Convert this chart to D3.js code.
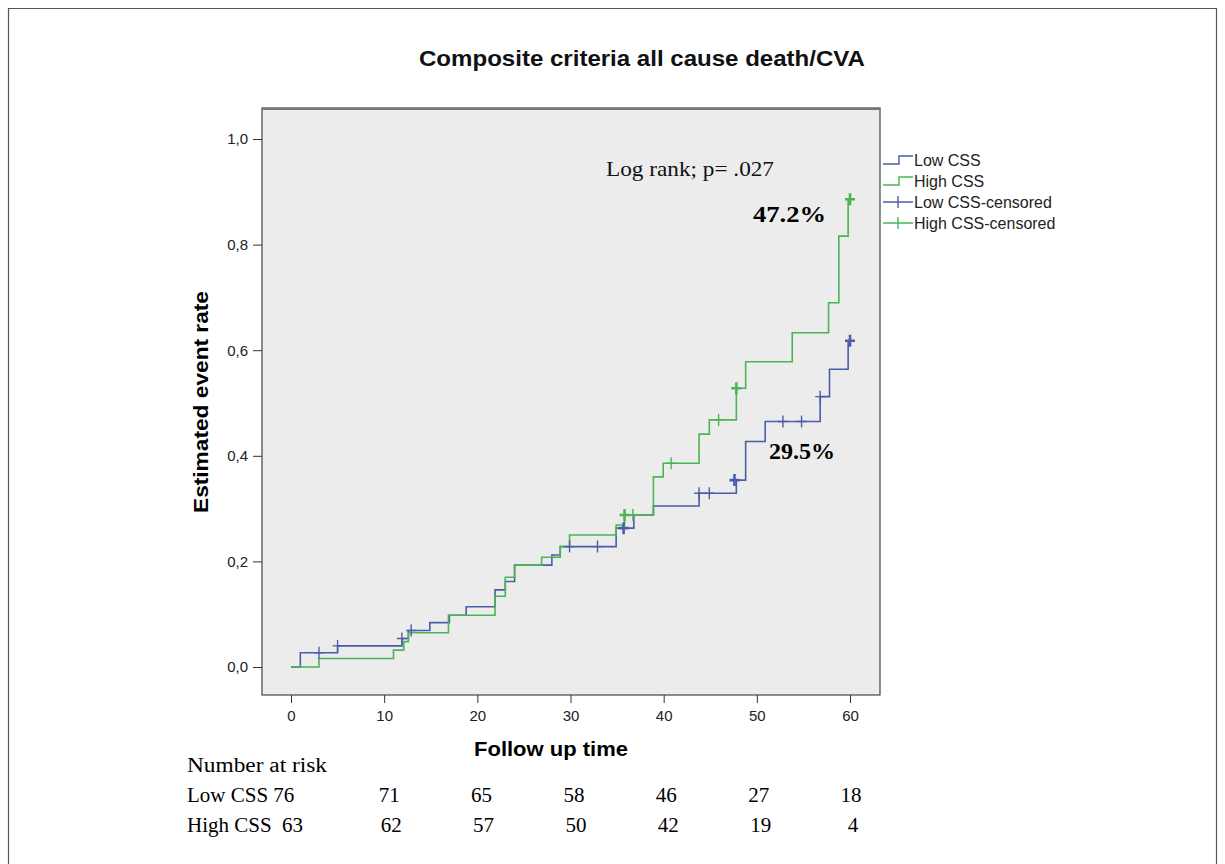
<!DOCTYPE html>
<html>
<head>
<meta charset="utf-8">
<script src="https://cdn.jsdelivr.net/npm/d3@7"></script>
<style>
  body { margin: 0; background: #fff; }
  svg { display: block; }
</style>
</head>
<body>
<div id="chart"></div>
<script>
// step points: [time, estimated event rate]
const lowSteps = [
    [0, 0], [1.0, 0.027], [5.0, 0.040], [11.9, 0.054], [12.6, 0.069], [14.9, 0.084],
    [17.0, 0.098], [18.8, 0.114], [21.9, 0.146], [23.0, 0.162], [24.0, 0.193],
    [28.0, 0.212], [28.9, 0.228], [34.9, 0.263], [36.8, 0.288], [38.9, 0.305],
    [43.8, 0.329], [47.8, 0.354], [48.8, 0.427], [50.9, 0.465], [56.8, 0.512],
    [57.8, 0.564], [59.8, 0.618], [60, 0.618]
];
const highSteps = [
    [0, 0], [3.0, 0.016], [11.0, 0.032], [12.1, 0.048], [12.6, 0.065], [16.9, 0.098],
    [21.9, 0.134], [23.0, 0.170], [24.0, 0.193], [26.9, 0.208], [28.9, 0.228],
    [29.9, 0.250], [34.9, 0.269], [35.8, 0.288], [38.9, 0.360], [39.95, 0.386],
    [43.8, 0.441], [44.9, 0.468], [47.8, 0.528], [48.8, 0.578], [53.8, 0.633],
    [57.7, 0.690], [58.8, 0.816], [59.8, 0.886], [60, 0.886]
];
// censored observations: [time, value, heavy]
const lowCensored = [
    [3.0, 0.027, 0], [5.0, 0.040, 0], [11.9, 0.054, 0], [12.9, 0.069, 0], [29.9, 0.228, 0],
    [32.9, 0.228, 0], [35.7, 0.263, 1], [43.8, 0.329, 0], [44.9, 0.329, 0], [47.6, 0.354, 1],
    [52.8, 0.465, 0], [54.8, 0.465, 0], [56.8, 0.512, 0], [60, 0.618, 1]
];
const highCensored = [
    [35.8, 0.288, 1], [36.7, 0.288, 0], [40.8, 0.386, 0], [45.9, 0.468, 0], [47.8, 0.528, 1],
    [60, 0.886, 1]
];

const xTicks = [0, 10, 20, 30, 40, 50, 60];
const yTicks = [0, 0.2, 0.4, 0.6, 0.8, 1.0];
const riskGroups = ["Low CSS", "High CSS"];
const riskLow = [76, 71, 65, 58, 46, 27, 18];
const riskHigh = [63, 62, 57, 50, 42, 19, 4];
const legendLabels = ["Low CSS", "High CSS", "Low CSS-censored", "High CSS-censored"];

const blue = "#4b5ca9", green = "#4ab553";
const sans = "Liberation Sans, Arial, sans-serif";
const serif = "Liberation Serif, Times New Roman, serif";

const W = 1225, H = 864;
const box = { left: 262, top: 108, right: 880, bottom: 695 };

const svg = d3.select("#chart").append("svg")
    .attr("width", W).attr("height", H);

// outer frame
svg.append("path")
    .attr("d", `M8.5,${H} V8.5 H1216.5 V${H}`)
    .attr("fill", "none").attr("stroke", "#555").attr("stroke-width", 1.2);

svg.append("text")
    .attr("x", 642).attr("y", 66)
    .attr("text-anchor", "middle")
    .attr("font-family", sans)
    .attr("font-size", "22px").attr("font-weight", "bold")
    .attr("textLength", 446).attr("lengthAdjust", "spacingAndGlyphs")
    .attr("fill", "#111")
    .text("Composite criteria all cause death/CVA");

const x = d3.scaleLinear().domain([0, 60]).range([291, 850]);
const y = d3.scaleLinear().domain([0, 1]).range([667, 139]);

// plot box
svg.append("rect")
    .attr("x", box.left).attr("y", box.top)
    .attr("width", box.right - box.left).attr("height", box.bottom - box.top)
    .attr("fill", "#ececec").attr("stroke", "#444").attr("stroke-width", 1.2);
svg.append("line")
    .attr("x1", box.left).attr("x2", box.right)
    .attr("y1", box.top + 1).attr("y2", box.top + 1)
    .attr("stroke", "#777").attr("stroke-width", 2);

// axes
const xAxis = svg.append("g")
    .attr("transform", `translate(0,${box.bottom})`)
    .call(d3.axisBottom(x).tickValues(xTicks).tickSize(8).tickPadding(7).tickFormat(d3.format("d")));
const yAxis = svg.append("g")
    .attr("transform", `translate(${box.left},0)`)
    .call(d3.axisLeft(y).tickValues(yTicks).tickSize(9).tickPadding(5)
        .tickFormat(d => d.toFixed(1).replace(".", ",")));
[xAxis, yAxis].forEach(g => {
    g.select(".domain").remove();
    g.selectAll("line").attr("stroke", "#333");
    g.selectAll("text")
        .attr("font-family", sans)
        .attr("font-size", "15px").attr("fill", "#222");
});

svg.append("text")
    .attr("x", 551).attr("y", 756)
    .attr("text-anchor", "middle")
    .attr("font-family", sans)
    .attr("font-size", "20px").attr("font-weight", "bold")
    .attr("textLength", 154).attr("lengthAdjust", "spacingAndGlyphs")
    .text("Follow up time");
svg.append("text")
    .attr("transform", "translate(208,402) rotate(-90)")
    .attr("text-anchor", "middle")
    .attr("font-family", sans)
    .attr("font-size", "20px").attr("font-weight", "bold")
    .attr("textLength", 222).attr("lengthAdjust", "spacingAndGlyphs")
    .text("Estimated event rate");

// curves
const line = d3.line().x(d => x(d[0])).y(d => y(d[1])).curve(d3.curveStepAfter);
[[lowSteps, blue], [highSteps, green]].forEach(([data, col]) => {
    svg.append("path").datum(data)
        .attr("d", line)
        .attr("fill", "none").attr("stroke", col).attr("stroke-width", 1.6);
});

function crosses(data, col) {
    const g = svg.append("g").attr("stroke", col);
    g.selectAll("path").data(data).enter().append("path")
        .attr("d", d => `M${x(d[0]) - 5},${y(d[1])} h10 M${x(d[0])},${y(d[1]) - 6} v12`)
        .attr("stroke-width", d => d[2] ? 2.6 : 1.4);
}
crosses(lowCensored, blue);
crosses(highCensored, green);

// annotations
svg.append("text")
    .attr("x", 606).attr("y", 176)
    .attr("font-family", serif)
    .attr("font-size", "22px").attr("fill", "#111")
    .attr("textLength", 168).attr("lengthAdjust", "spacingAndGlyphs")
    .text("Log rank; p= .027");
svg.append("text")
    .attr("x", 753).attr("y", 222)
    .attr("font-family", serif)
    .attr("font-size", "24px").attr("font-weight", "bold")
    .attr("textLength", 73).attr("lengthAdjust", "spacingAndGlyphs")
    .text("47.2%");
svg.append("text")
    .attr("x", 769).attr("y", 459)
    .attr("font-family", serif)
    .attr("font-size", "24px").attr("font-weight", "bold")
    .attr("textLength", 66).attr("lengthAdjust", "spacingAndGlyphs")
    .text("29.5%");

// legend
const lg = svg.append("g").attr("transform", "translate(883,0)");
const legendY = [160, 181, 202, 223];
const legendCols = [blue, green, blue, green];
legendLabels.forEach((lab, i) => {
    const yy = legendY[i], col = legendCols[i];
    if (i < 2) {
        lg.append("path")
            .attr("d", `M0,${yy + 4} H16 V${yy - 4} H30`)
            .attr("fill", "none").attr("stroke", col).attr("stroke-width", 1.4);
    } else {
        lg.append("path")
            .attr("d", `M0,${yy} H30 M15,${yy - 6} V${yy + 6}`)
            .attr("fill", "none").attr("stroke", col).attr("stroke-width", 1.4);
    }
    lg.append("text")
        .attr("x", 31).attr("y", yy + 6)
        .attr("font-family", sans)
        .attr("font-size", "16px").attr("fill", "#222")
        .text(lab);
});

// number at risk table
svg.append("text")
    .attr("x", 187).attr("y", 772)
    .attr("font-family", serif).attr("font-size", "20px")
    .attr("textLength", 140).attr("lengthAdjust", "spacingAndGlyphs")
    .text("Number at risk");
[riskLow, riskHigh].forEach((vals, r) => {
    const yy = 802 + r * 30;
    svg.append("text")
        .attr("x", 187).attr("y", yy)
        .attr("font-family", serif).attr("font-size", "21px")
        .attr("xml:space", "preserve")
        .text(riskGroups[r] + (r === 0 ? " " : "  ") + vals[0]);
    vals.slice(1).forEach((v, i) => {
        svg.append("text")
            .attr("x", x(xTicks[i + 1]) + (r === 0 ? 5 : 7) - i * 0.8)
            .attr("y", yy)
            .attr("text-anchor", "middle")
            .attr("font-family", serif).attr("font-size", "21px")
            .text(v);
    });
});
</script>
</body>
</html>
